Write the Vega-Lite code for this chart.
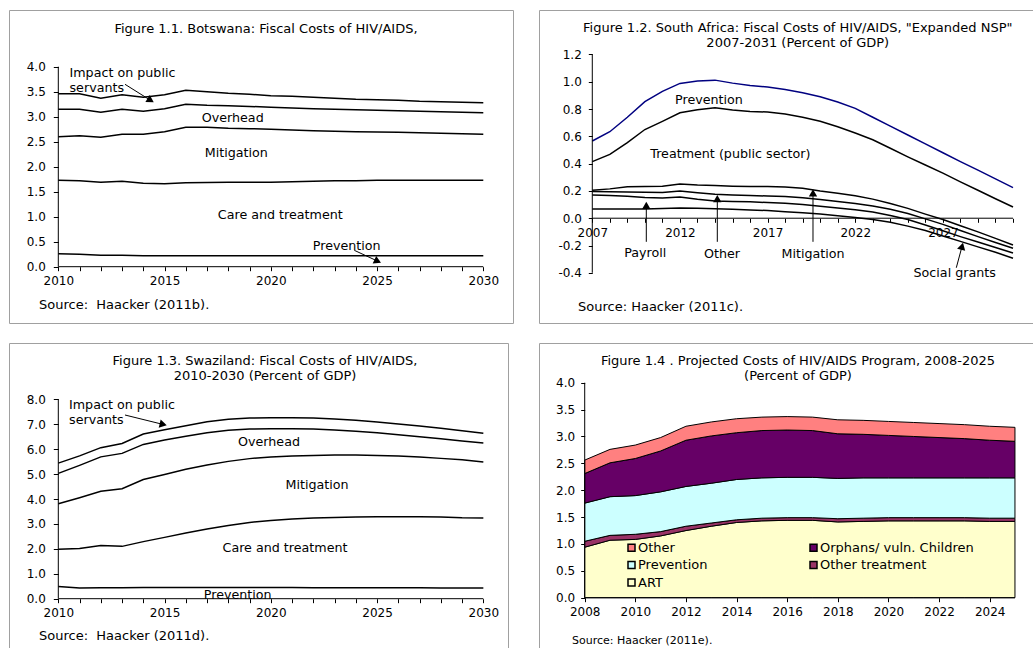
{
  "$schema": "https://vega.github.io/schema/vega-lite/v6.json",
  "background": "white",
  "padding": {"left": 8, "top": 9, "right": 0, "bottom": 0},
  "config": {
    "font": "DejaVu Sans",
    "view": {"stroke": "#a0a0a0", "strokeWidth": 1},
    "axis": {"domain": false, "grid": false, "tickColor": "black", "labelColor": "black", "labelFontSize": 12, "labelFont": "DejaVu Sans", "labelFlush": false, "labelOverlap": false, "tickWidth": 1, "tickCount": 100},
    "text": {"color": "black", "fontSize": 12.7}
  },
  "datasets": {
    "bw": [
      {"year": 2010, "imp": 3.46, "ovh": 3.15, "mit": 2.60, "care": 1.73, "prev": 0.26},
      {"year": 2011, "imp": 3.46, "ovh": 3.15, "mit": 2.62, "care": 1.72, "prev": 0.25},
      {"year": 2012, "imp": 3.37, "ovh": 3.09, "mit": 2.59, "care": 1.69, "prev": 0.23},
      {"year": 2013, "imp": 3.44, "ovh": 3.15, "mit": 2.65, "care": 1.71, "prev": 0.23},
      {"year": 2014, "imp": 3.39, "ovh": 3.11, "mit": 2.65, "care": 1.67, "prev": 0.22},
      {"year": 2015, "imp": 3.44, "ovh": 3.16, "mit": 2.70, "care": 1.66, "prev": 0.22},
      {"year": 2016, "imp": 3.53, "ovh": 3.25, "mit": 2.79, "care": 1.68, "prev": 0.22},
      {"year": 2017, "imp": 3.50, "ovh": 3.23, "mit": 2.79, "care": 1.685, "prev": 0.22},
      {"year": 2018, "imp": 3.47, "ovh": 3.22, "mit": 2.77, "care": 1.69, "prev": 0.22},
      {"year": 2019, "imp": 3.45, "ovh": 3.205, "mit": 2.76, "care": 1.69, "prev": 0.22},
      {"year": 2020, "imp": 3.42, "ovh": 3.19, "mit": 2.75, "care": 1.69, "prev": 0.22},
      {"year": 2021, "imp": 3.41, "ovh": 3.175, "mit": 2.735, "care": 1.70, "prev": 0.22},
      {"year": 2022, "imp": 3.39, "ovh": 3.16, "mit": 2.72, "care": 1.71, "prev": 0.22},
      {"year": 2023, "imp": 3.37, "ovh": 3.15, "mit": 2.71, "care": 1.72, "prev": 0.22},
      {"year": 2024, "imp": 3.35, "ovh": 3.14, "mit": 2.70, "care": 1.72, "prev": 0.22},
      {"year": 2025, "imp": 3.34, "ovh": 3.13, "mit": 2.695, "care": 1.73, "prev": 0.22},
      {"year": 2026, "imp": 3.33, "ovh": 3.12, "mit": 2.69, "care": 1.73, "prev": 0.22},
      {"year": 2027, "imp": 3.31, "ovh": 3.11, "mit": 2.68, "care": 1.73, "prev": 0.22},
      {"year": 2028, "imp": 3.30, "ovh": 3.10, "mit": 2.67, "care": 1.73, "prev": 0.22},
      {"year": 2029, "imp": 3.29, "ovh": 3.09, "mit": 2.66, "care": 1.73, "prev": 0.22},
      {"year": 2030, "imp": 3.28, "ovh": 3.08, "mit": 2.65, "care": 1.73, "prev": 0.22}
    ],
    "za": [
      {"year": 2007, "prev": 0.566, "treat": 0.415, "a": 0.205, "b": 0.195, "c": 0.171, "d": 0.068},
      {"year": 2008, "prev": 0.634, "treat": 0.468, "a": 0.215, "b": 0.194, "c": 0.166, "d": 0.068},
      {"year": 2009, "prev": 0.74, "treat": 0.554, "a": 0.23, "b": 0.193, "c": 0.161, "d": 0.068},
      {"year": 2010, "prev": 0.854, "treat": 0.65, "a": 0.232, "b": 0.19, "c": 0.152, "d": 0.068},
      {"year": 2011, "prev": 0.93, "treat": 0.71, "a": 0.235, "b": 0.188, "c": 0.149, "d": 0.071},
      {"year": 2012, "prev": 0.988, "treat": 0.773, "a": 0.25, "b": 0.2, "c": 0.156, "d": 0.075},
      {"year": 2013, "prev": 1.005, "treat": 0.795, "a": 0.243, "b": 0.187, "c": 0.139, "d": 0.073},
      {"year": 2014, "prev": 1.012, "treat": 0.81, "a": 0.24, "b": 0.175, "c": 0.127, "d": 0.07},
      {"year": 2015, "prev": 0.99, "treat": 0.793, "a": 0.235, "b": 0.17, "c": 0.123, "d": 0.066},
      {"year": 2016, "prev": 0.973, "treat": 0.783, "a": 0.232, "b": 0.166, "c": 0.12, "d": 0.061},
      {"year": 2017, "prev": 0.961, "treat": 0.778, "a": 0.232, "b": 0.163, "c": 0.115, "d": 0.056},
      {"year": 2018, "prev": 0.944, "treat": 0.763, "a": 0.228, "b": 0.16, "c": 0.11, "d": 0.048},
      {"year": 2019, "prev": 0.92, "treat": 0.74, "a": 0.22, "b": 0.15, "c": 0.1, "d": 0.04},
      {"year": 2020, "prev": 0.89, "treat": 0.71, "a": 0.2, "b": 0.138, "c": 0.088, "d": 0.03},
      {"year": 2021, "prev": 0.852, "treat": 0.67, "a": 0.183, "b": 0.123, "c": 0.075, "d": 0.018},
      {"year": 2022, "prev": 0.805, "treat": 0.624, "a": 0.165, "b": 0.108, "c": 0.062, "d": 0.005},
      {"year": 2023, "prev": 0.74, "treat": 0.575, "a": 0.14, "b": 0.09, "c": 0.045, "d": -0.01},
      {"year": 2024, "prev": 0.675, "treat": 0.513, "a": 0.108, "b": 0.065, "c": 0.02, "d": -0.03},
      {"year": 2025, "prev": 0.61, "treat": 0.45, "a": 0.072, "b": 0.035, "c": -0.01, "d": -0.058},
      {"year": 2026, "prev": 0.545, "treat": 0.39, "a": 0.03, "b": -0.005, "c": -0.05, "d": -0.09},
      {"year": 2027, "prev": 0.48, "treat": 0.33, "a": -0.01, "b": -0.045, "c": -0.092, "d": -0.13},
      {"year": 2028, "prev": 0.415, "treat": 0.266, "a": -0.055, "b": -0.09, "c": -0.135, "d": -0.17},
      {"year": 2029, "prev": 0.352, "treat": 0.205, "a": -0.1, "b": -0.135, "c": -0.175, "d": -0.21},
      {"year": 2030, "prev": 0.288, "treat": 0.143, "a": -0.148, "b": -0.178, "c": -0.215, "d": -0.25},
      {"year": 2031, "prev": 0.224, "treat": 0.082, "a": -0.196, "b": -0.22, "c": -0.255, "d": -0.293}
    ],
    "sz": [
      {"year": 2010, "imp": 5.44, "ovh": 5.03, "mit": 3.81, "care": 1.98, "prev": 0.49},
      {"year": 2011, "imp": 5.73, "ovh": 5.35, "mit": 4.05, "care": 2.01, "prev": 0.43},
      {"year": 2012, "imp": 6.06, "ovh": 5.69, "mit": 4.31, "care": 2.13, "prev": 0.44},
      {"year": 2013, "imp": 6.23, "ovh": 5.83, "mit": 4.41, "care": 2.10, "prev": 0.44},
      {"year": 2014, "imp": 6.61, "ovh": 6.19, "mit": 4.78, "care": 2.29, "prev": 0.45},
      {"year": 2015, "imp": 6.78, "ovh": 6.37, "mit": 4.98, "care": 2.46, "prev": 0.45},
      {"year": 2016, "imp": 6.94, "ovh": 6.52, "mit": 5.19, "care": 2.64, "prev": 0.45},
      {"year": 2017, "imp": 7.10, "ovh": 6.66, "mit": 5.36, "care": 2.80, "prev": 0.45},
      {"year": 2018, "imp": 7.20, "ovh": 6.76, "mit": 5.51, "care": 2.94, "prev": 0.45},
      {"year": 2019, "imp": 7.25, "ovh": 6.81, "mit": 5.62, "care": 3.06, "prev": 0.45},
      {"year": 2020, "imp": 7.26, "ovh": 6.82, "mit": 5.69, "care": 3.14, "prev": 0.45},
      {"year": 2021, "imp": 7.26, "ovh": 6.82, "mit": 5.73, "care": 3.20, "prev": 0.45},
      {"year": 2022, "imp": 7.25, "ovh": 6.81, "mit": 5.75, "care": 3.24, "prev": 0.44},
      {"year": 2023, "imp": 7.21, "ovh": 6.77, "mit": 5.77, "care": 3.26, "prev": 0.44},
      {"year": 2024, "imp": 7.16, "ovh": 6.72, "mit": 5.77, "care": 3.28, "prev": 0.44},
      {"year": 2025, "imp": 7.09, "ovh": 6.66, "mit": 5.75, "care": 3.29, "prev": 0.44},
      {"year": 2026, "imp": 7.01, "ovh": 6.58, "mit": 5.73, "care": 3.29, "prev": 0.44},
      {"year": 2027, "imp": 6.93, "ovh": 6.50, "mit": 5.69, "care": 3.29, "prev": 0.44},
      {"year": 2028, "imp": 6.84, "ovh": 6.42, "mit": 5.63, "care": 3.28, "prev": 0.43},
      {"year": 2029, "imp": 6.74, "ovh": 6.33, "mit": 5.57, "care": 3.25, "prev": 0.43},
      {"year": 2030, "imp": 6.64, "ovh": 6.25, "mit": 5.48, "care": 3.24, "prev": 0.43}
    ],
    "prog": [
      {"year": 2008, "art": 0.94, "ot": 0.11, "prv": 0.71, "orph": 0.55, "oth": 0.25},
      {"year": 2009, "art": 1.07, "ot": 0.09, "prv": 0.72, "orph": 0.63, "oth": 0.25},
      {"year": 2010, "art": 1.085, "ot": 0.095, "prv": 0.72, "orph": 0.69, "oth": 0.25},
      {"year": 2011, "art": 1.15, "ot": 0.08, "prv": 0.74, "orph": 0.76, "oth": 0.25},
      {"year": 2012, "art": 1.25, "ot": 0.08, "prv": 0.74, "orph": 0.86, "oth": 0.26},
      {"year": 2013, "art": 1.33, "ot": 0.06, "prv": 0.74, "orph": 0.88, "oth": 0.26},
      {"year": 2014, "art": 1.40, "ot": 0.05, "prv": 0.75, "orph": 0.87, "oth": 0.26},
      {"year": 2015, "art": 1.43, "ot": 0.05, "prv": 0.75, "orph": 0.88, "oth": 0.25},
      {"year": 2016, "art": 1.44, "ot": 0.05, "prv": 0.75, "orph": 0.88, "oth": 0.25},
      {"year": 2017, "art": 1.44, "ot": 0.05, "prv": 0.75, "orph": 0.87, "oth": 0.25},
      {"year": 2018, "art": 1.41, "ot": 0.06, "prv": 0.75, "orph": 0.83, "oth": 0.26},
      {"year": 2019, "art": 1.42, "ot": 0.06, "prv": 0.75, "orph": 0.81, "oth": 0.26},
      {"year": 2020, "art": 1.43, "ot": 0.06, "prv": 0.74, "orph": 0.79, "oth": 0.26},
      {"year": 2021, "art": 1.43, "ot": 0.06, "prv": 0.74, "orph": 0.77, "oth": 0.26},
      {"year": 2022, "art": 1.43, "ot": 0.06, "prv": 0.74, "orph": 0.75, "oth": 0.26},
      {"year": 2023, "art": 1.43, "ot": 0.06, "prv": 0.74, "orph": 0.73, "oth": 0.26},
      {"year": 2024, "art": 1.42, "ot": 0.06, "prv": 0.75, "orph": 0.70, "oth": 0.26},
      {"year": 2025, "art": 1.42, "ot": 0.06, "prv": 0.75, "orph": 0.68, "oth": 0.26}
    ],
    "progItems": [
      {"k": "art", "item": "ART", "o": 1},
      {"k": "ot", "item": "Other treatment", "o": 2},
      {"k": "prv", "item": "Prevention", "o": 3},
      {"k": "orph", "item": "Orphans/ vuln. Children", "o": 4},
      {"k": "oth", "item": "Other", "o": 5}
    ]
  },
  "resolve": {"scale": {"color": "independent"}, "legend": {"color": "independent"}},
  "spacing": 18,
  "vconcat": [
    {
      "spacing": 24,
      "resolve": {"scale": {"color": "independent"}, "legend": {"color": "independent"}},
      "hconcat": [
        {
          "width": 504, "height": 313,
          "layer": [
            {
              "data": {"name": "bw"},
              "transform": [{"fold": ["imp", "ovh", "mit", "care", "prev"], "as": ["s", "v"]}],
              "mark": {"type": "line", "color": "black", "strokeWidth": 1.5},
              "encoding": {
                "x": {"field": "year", "type": "quantitative", "scale": {"domain": [2007.68, 2031.398], "nice": false, "zero": false},
                  "axis": {"title": null, "offset": -56.3, "tickCount": 100, "values": [2010,2011,2012,2013,2014,2015,2016,2017,2018,2019,2020,2021,2022,2023,2024,2025,2026,2027,2028,2029,2030], "labelExpr": "datum.value % 5 === 0 ? datum.value : ''", "tickSize": 4, "labelPadding": 5, "labelOverlap": false, "labelFlush": false, "labelBound": false}},
                "y": {"field": "v", "type": "quantitative", "scale": {"domain": [-1.126, 5.134], "nice": false, "zero": false},
                  "axis": {"title": null, "offset": -49.3, "tickCount": 100, "values": [0, 0.5, 1, 1.5, 2, 2.5, 3, 3.5, 4], "format": ".1f", "tickSize": 5, "labelPadding": 8, "labelOverlap": false, "labelFlush": false, "labelBound": false}},
                "detail": {"field": "s"}
              }
            },
            {"data": {"values": [{}]}, "mark": {"type": "text", "align": "center", "baseline": "middle", "fontSize": 13}, "encoding": {"x": {"datum": 2019.774}, "y": {"datum": 4.76}, "text": {"value": "Figure 1.1. Botswana: Fiscal Costs of HIV/AIDS,"}}},
            {"data": {"values": [{}]}, "mark": {"type": "text", "align": "left", "baseline": "middle", "fontSize": 13}, "encoding": {"x": {"datum": 2009.092}, "y": {"datum": -0.766}, "text": {"value": "Source:\u00a0 Haacker (2011b)."}}},
            {"data": {"values": [{}]}, "mark": {"type": "text", "align": "left", "baseline": "middle"}, "encoding": {"x": {"datum": 2010.527}, "y": {"datum": 3.874}, "text": {"value": "Impact on public"}}},
            {"data": {"values": [{}]}, "mark": {"type": "text", "align": "left", "baseline": "middle"}, "encoding": {"x": {"datum": 2010.527}, "y": {"datum": 3.568}, "text": {"value": "servants"}}},
            {"data": {"values": [{}]}, "mark": {"type": "text", "align": "center", "baseline": "middle"}, "encoding": {"x": {"datum": 2018.207}, "y": {"datum": 2.968}, "text": {"value": "Overhead"}}},
            {"data": {"values": [{}]}, "mark": {"type": "text", "align": "center", "baseline": "middle"}, "encoding": {"x": {"datum": 2018.377}, "y": {"datum": 2.28}, "text": {"value": "Mitigation"}}},
            {"data": {"values": [{}]}, "mark": {"type": "text", "align": "center", "baseline": "middle"}, "encoding": {"x": {"datum": 2020.447}, "y": {"datum": 1.028}, "text": {"value": "Care and treatment"}}},
            {"data": {"values": [{}]}, "mark": {"type": "text", "align": "center", "baseline": "middle"}, "encoding": {"x": {"datum": 2023.572}, "y": {"datum": 0.414}, "text": {"value": "Prevention"}}},
            {"data": {"values": [{}]}, "mark": {"type": "rule", "color": "black", "strokeWidth": 1}, "encoding": {"x": {"datum": 2013.139}, "y": {"datum": 3.648}, "x2": {"datum": 2014.346}, "y2": {"datum": 3.326}}},
            {"data": {"values": [{}]}, "mark": {"type": "point", "shape": "triangle-up", "filled": true, "color": "black", "opacity": 1, "size": 70, "angle": 122.1}, "encoding": {"x": {"datum": 2014.346}, "y": {"datum": 3.326}}},
            {"data": {"values": [{}]}, "mark": {"type": "rule", "color": "black", "strokeWidth": 1}, "encoding": {"x": {"datum": 2023.929}, "y": {"datum": 0.328}, "x2": {"datum": 2025.032}, "y2": {"datum": 0.11}}},
            {"data": {"values": [{}]}, "mark": {"type": "point", "shape": "triangle-up", "filled": true, "color": "black", "opacity": 1, "size": 70, "angle": 114.9}, "encoding": {"x": {"datum": 2025.032}, "y": {"datum": 0.11}}},
            {"data": {"values": [{}]}, "mark": {"type": "rule", "color": "black", "strokeWidth": 1}, "encoding": {"x": {"datum": 2010}, "x2": {"datum": 2030}, "y": {"datum": 0}}},
            {"data": {"values": [{}]}, "mark": {"type": "rule", "color": "black", "strokeWidth": 1}, "encoding": {"x": {"datum": 2010}, "y": {"datum": 0}, "y2": {"datum": 4}}}
          ]
        },
        {
          "width": 495, "height": 313,
          "layer": [
            {
              "data": {"name": "za"},
              "transform": [{"fold": ["treat", "a", "b", "c", "d"], "as": ["s", "v"]}],
              "mark": {"type": "line", "color": "black", "strokeWidth": 1.5},
              "encoding": {
                "x": {"field": "year", "type": "quantitative", "scale": {"domain": [2003.96, 2032.197], "nice": false, "zero": false},
                  "axis": {"title": null, "offset": -104.7, "tickCount": 100, "values": [2007,2008,2009,2010,2011,2012,2013,2014,2015,2016,2017,2018,2019,2020,2021,2022,2023,2024,2025,2026,2027,2028,2029,2030,2031], "labelExpr": "(datum.value - 2007) % 5 === 0 ? datum.value : ''", "tickSize": 4, "labelPadding": 5, "labelOverlap": false, "labelFlush": false, "labelBound": false}},
                "y": {"field": "v", "type": "quantitative", "scale": {"domain": [-0.768, 1.526], "nice": false, "zero": false},
                  "axis": {"title": null, "offset": -53.3, "tickCount": 100, "values": [-0.4, -0.2, 0, 0.2, 0.4, 0.6, 0.8, 1.0, 1.2], "labelExpr": "replace(format(datum.value, '.1f'), '\u2212', '-')", "tickSize": 4, "labelPadding": 7, "labelOverlap": false, "labelFlush": false, "labelBound": false}},
                "detail": {"field": "s"}
              }
            },
            {
              "data": {"name": "za"},
              "mark": {"type": "line", "color": "#000080", "strokeWidth": 1.5},
              "encoding": {"x": {"field": "year", "type": "quantitative"}, "y": {"field": "prev", "type": "quantitative"}}
            },
            {"data": {"values": [{}]}, "mark": {"type": "text", "align": "center", "baseline": "middle", "fontSize": 13}, "encoding": {"x": {"datum": 2018.72}, "y": {"datum": 1.392}, "text": {"value": "Figure 1.2. South Africa: Fiscal Costs of HIV/AIDS, \"Expanded NSP\""}}},
            {"data": {"values": [{}]}, "mark": {"type": "text", "align": "center", "baseline": "middle", "fontSize": 13}, "encoding": {"x": {"datum": 2018.72}, "y": {"datum": 1.282}, "text": {"value": "2007-2031 (Percent of GDP)"}}},
            {"data": {"values": [{}]}, "mark": {"type": "text", "align": "left", "baseline": "middle", "fontSize": 13}, "encoding": {"x": {"datum": 2006.185}, "y": {"datum": -0.649}, "text": {"value": "Source: Haacker (2011c)."}}},
            {"data": {"values": [{}]}, "mark": {"type": "text", "align": "center", "baseline": "middle"}, "encoding": {"x": {"datum": 2013.658}, "y": {"datum": 0.864}, "text": {"value": "Prevention"}}},
            {"data": {"values": [{}]}, "mark": {"type": "text", "align": "center", "baseline": "middle"}, "encoding": {"x": {"datum": 2014.873}, "y": {"datum": 0.472}, "text": {"value": "Treatment (public sector)"}}},
            {"data": {"values": [{}]}, "mark": {"type": "text", "align": "center", "baseline": "middle"}, "encoding": {"x": {"datum": 2010.024}, "y": {"datum": -0.253}, "text": {"value": "Payroll"}}},
            {"data": {"values": [{}]}, "mark": {"type": "text", "align": "center", "baseline": "middle"}, "encoding": {"x": {"datum": 2014.399}, "y": {"datum": -0.265}, "text": {"value": "Other"}}},
            {"data": {"values": [{}]}, "mark": {"type": "text", "align": "center", "baseline": "middle"}, "encoding": {"x": {"datum": 2019.59}, "y": {"datum": -0.265}, "text": {"value": "Mitigation"}}},
            {"data": {"values": [{}]}, "mark": {"type": "text", "align": "center", "baseline": "middle"}, "encoding": {"x": {"datum": 2027.673}, "y": {"datum": -0.404}, "text": {"value": "Social grants"}}},
            {"data": {"values": [{}]}, "mark": {"type": "rule", "color": "black", "strokeWidth": 1}, "encoding": {"x": {"datum": 2010.081}, "y": {"datum": -0.173}, "y2": {"datum": 0.094}}},
            {"data": {"values": [{}]}, "mark": {"type": "point", "shape": "triangle-up", "filled": true, "color": "black", "opacity": 1, "size": 70}, "encoding": {"x": {"datum": 2010.081}, "y": {"datum": 0.094}}},
            {"data": {"values": [{}]}, "mark": {"type": "rule", "color": "black", "strokeWidth": 1}, "encoding": {"x": {"datum": 2014.131}, "y": {"datum": -0.173}, "y2": {"datum": 0.143}}},
            {"data": {"values": [{}]}, "mark": {"type": "point", "shape": "triangle-up", "filled": true, "color": "black", "opacity": 1, "size": 70}, "encoding": {"x": {"datum": 2014.131}, "y": {"datum": 0.143}}},
            {"data": {"values": [{}]}, "mark": {"type": "rule", "color": "black", "strokeWidth": 1}, "encoding": {"x": {"datum": 2019.59}, "y": {"datum": -0.173}, "y2": {"datum": 0.185}}},
            {"data": {"values": [{}]}, "mark": {"type": "point", "shape": "triangle-up", "filled": true, "color": "black", "opacity": 1, "size": 70}, "encoding": {"x": {"datum": 2019.59}, "y": {"datum": 0.185}}},
            {"data": {"values": [{}]}, "mark": {"type": "rule", "color": "black", "strokeWidth": 1}, "encoding": {"x": {"datum": 2027.765}, "y": {"datum": -0.363}, "x2": {"datum": 2028.094}, "y2": {"datum": -0.2056}}},
            {"data": {"values": [{}]}, "mark": {"type": "point", "shape": "triangle-up", "filled": true, "color": "black", "opacity": 1, "size": 70, "angle": 15}, "encoding": {"x": {"datum": 2028.094}, "y": {"datum": -0.2056}}},
            {"data": {"values": [{}]}, "mark": {"type": "rule", "color": "black", "strokeWidth": 1}, "encoding": {"x": {"datum": 2007}, "x2": {"datum": 2031}, "y": {"datum": 0}}},
            {"data": {"values": [{}]}, "mark": {"type": "rule", "color": "black", "strokeWidth": 1}, "encoding": {"x": {"datum": 2007}, "y": {"datum": -0.4}, "y2": {"datum": 1.2}}}
          ]
        }
      ]
    },
    {
      "spacing": 29,
      "resolve": {"scale": {"color": "independent"}, "legend": {"color": "independent"}},
      "hconcat": [
        {
          "width": 499, "height": 306,
          "layer": [
            {
              "data": {"name": "sz"},
              "transform": [{"fold": ["imp", "ovh", "mit", "care", "prev"], "as": ["s", "v"]}],
              "mark": {"type": "line", "color": "black", "strokeWidth": 1.5},
              "encoding": {
                "x": {"field": "year", "type": "quantitative", "scale": {"domain": [2007.68, 2031.16], "nice": false, "zero": false},
                  "axis": {"title": null, "offset": -50.3, "tickCount": 100, "values": [2010,2011,2012,2013,2014,2015,2016,2017,2018,2019,2020,2021,2022,2023,2024,2025,2026,2027,2028,2029,2030], "labelExpr": "datum.value % 5 === 0 ? datum.value : ''", "tickSize": 4, "labelPadding": 5, "labelOverlap": false, "labelFlush": false, "labelBound": false}},
                "y": {"field": "v", "type": "quantitative", "scale": {"domain": [-2.018, 10.259], "nice": false, "zero": false},
                  "axis": {"title": null, "offset": -49.3, "tickCount": 100, "values": [0, 1, 2, 3, 4, 5, 6, 7, 8], "format": ".1f", "tickSize": 5, "labelPadding": 8, "labelOverlap": false, "labelFlush": false, "labelBound": false}},
                "detail": {"field": "s"}
              }
            },
            {"data": {"values": [{}]}, "mark": {"type": "text", "align": "center", "baseline": "middle", "fontSize": 13}, "encoding": {"x": {"datum": 2019.727}, "y": {"datum": 9.537}, "text": {"value": "Figure 1.3. Swaziland: Fiscal Costs of HIV/AIDS,"}}},
            {"data": {"values": [{}]}, "mark": {"type": "text", "align": "center", "baseline": "middle", "fontSize": 13}, "encoding": {"x": {"datum": 2019.727}, "y": {"datum": 8.923}, "text": {"value": "2010-2030 (Percent of GDP)"}}},
            {"data": {"values": [{}]}, "mark": {"type": "text", "align": "left", "baseline": "middle", "fontSize": 13}, "encoding": {"x": {"datum": 2009.092}, "y": {"datum": -1.496}, "text": {"value": "Source:\u00a0 Haacker (2011d)."}}},
            {"data": {"values": [{}]}, "mark": {"type": "text", "align": "left", "baseline": "middle"}, "encoding": {"x": {"datum": 2010.504}, "y": {"datum": 7.784}, "text": {"value": "Impact on public"}}},
            {"data": {"values": [{}]}, "mark": {"type": "text", "align": "left", "baseline": "middle"}, "encoding": {"x": {"datum": 2010.504}, "y": {"datum": 7.17}, "text": {"value": "servants"}}},
            {"data": {"values": [{}]}, "mark": {"type": "text", "align": "center", "baseline": "middle"}, "encoding": {"x": {"datum": 2019.915}, "y": {"datum": 6.287}, "text": {"value": "Overhead"}}},
            {"data": {"values": [{}]}, "mark": {"type": "text", "align": "center", "baseline": "middle"}, "encoding": {"x": {"datum": 2022.174}, "y": {"datum": 4.574}, "text": {"value": "Mitigation"}}},
            {"data": {"values": [{}]}, "mark": {"type": "text", "align": "center", "baseline": "middle"}, "encoding": {"x": {"datum": 2020.668}, "y": {"datum": 2.046}, "text": {"value": "Care and treatment"}}},
            {"data": {"values": [{}]}, "mark": {"type": "text", "align": "center", "baseline": "middle"}, "encoding": {"x": {"datum": 2018.442}, "y": {"datum": 0.161}, "text": {"value": "Prevention"}}},
            {"data": {"values": [{}]}, "mark": {"type": "rule", "color": "black", "strokeWidth": 1}, "encoding": {"x": {"datum": 2013.139}, "y": {"datum": 7.37}, "x2": {"datum": 2014.936}, "y2": {"datum": 6.991}}},
            {"data": {"values": [{}]}, "mark": {"type": "point", "shape": "triangle-up", "filled": true, "color": "black", "opacity": 1, "size": 70, "angle": 103.9}, "encoding": {"x": {"datum": 2014.936}, "y": {"datum": 6.991}}},
            {"data": {"values": [{}]}, "mark": {"type": "rule", "color": "black", "strokeWidth": 1}, "encoding": {"x": {"datum": 2010}, "x2": {"datum": 2030}, "y": {"datum": 0}}},
            {"data": {"values": [{}]}, "mark": {"type": "rule", "color": "black", "strokeWidth": 1}, "encoding": {"x": {"datum": 2010}, "y": {"datum": 0}, "y2": {"datum": 8}}}
          ]
        },
        {
          "width": 495, "height": 306,
          "layer": [
            {
              "data": {"name": "prog"},
              "transform": [
                {"fold": ["art", "ot", "prv", "orph", "oth"], "as": ["k", "v"]},
                {"lookup": "k", "from": {"data": {"name": "progItems"}, "key": "k", "fields": ["item", "o"]}}
              ],
              "mark": {"type": "area", "stroke": "black", "strokeWidth": 1, "opacity": 1},
              "encoding": {
                "x": {"field": "year", "type": "quantitative", "scale": {"domain": [2006.194, 2025.752], "nice": false, "zero": false},
                  "axis": {"title": null, "offset": -51.3, "tickCount": 100, "values": [2008, 2010, 2012, 2014, 2016, 2018, 2020, 2022, 2024], "format": "d", "tickSize": 4, "labelPadding": 5, "labelOverlap": false, "labelFlush": false, "labelBound": false}},
                "y": {"field": "v", "type": "quantitative", "stack": "zero", "scale": {"domain": [-0.954, 4.739], "nice": false, "zero": false},
                  "axis": {"title": null, "offset": -45.7, "tickCount": 100, "values": [0, 0.5, 1, 1.5, 2, 2.5, 3, 3.5, 4], "format": ".1f", "tickSize": 4, "labelPadding": 6, "labelOverlap": false, "labelFlush": false, "labelBound": false}},
                "color": {"field": "item", "type": "nominal",
                  "scale": {"domain": ["Other", "Prevention", "ART", "Orphans/ vuln. Children", "Other treatment"], "range": ["#FF8080", "#CCFFFF", "#FFFFCC", "#660066", "#993366"]},
                  "legend": {"orient": "none", "legendX": 86, "legendY": 198, "columns": 2, "title": null, "symbolType": "square", "symbolSize": 49, "symbolStrokeColor": "black", "symbolStrokeWidth": 1.5, "symbolOpacity": 1, "labelFontSize": 13, "labelFont": "DejaVu Sans", "labelColor": "black", "columnPadding": 99, "rowPadding": 3.5, "labelOffset": 0, "padding": 0, "labelLimit": 300}},
                "order": {"field": "o", "type": "quantitative", "sort": "ascending"}
              }
            },
            {"data": {"values": [{}]}, "mark": {"type": "text", "align": "center", "baseline": "middle", "fontSize": 13}, "encoding": {"x": {"datum": 2016.427}, "y": {"datum": 4.404}, "text": {"value": "Figure 1.4 . Projected Costs of HIV/AIDS Program, 2008-2025"}}},
            {"data": {"values": [{}]}, "mark": {"type": "text", "align": "center", "baseline": "middle", "fontSize": 13}, "encoding": {"x": {"datum": 2016.427}, "y": {"datum": 4.119}, "text": {"value": "(Percent of GDP)"}}},
            {"data": {"values": [{}]}, "mark": {"type": "text", "align": "left", "baseline": "middle", "fontSize": 11}, "encoding": {"x": {"datum": 2007.498}, "y": {"datum": -0.811}, "text": {"value": "Source: Haacker (2011e)."}}},
            {"data": {"values": [{}]}, "mark": {"type": "rule", "color": "black", "strokeWidth": 1}, "encoding": {"x": {"datum": 2008}, "x2": {"datum": 2025}, "y": {"datum": 0}}},
            {"data": {"values": [{}]}, "mark": {"type": "rule", "color": "black", "strokeWidth": 1}, "encoding": {"x": {"datum": 2008}, "y": {"datum": 0}, "y2": {"datum": 4}}}
          ]
        }
      ]
    }
  ]
}
